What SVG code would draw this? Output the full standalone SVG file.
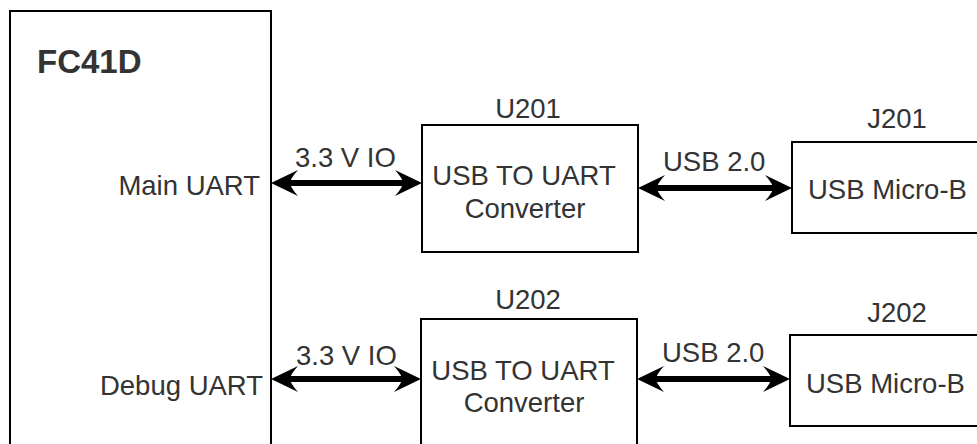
<svg xmlns="http://www.w3.org/2000/svg" width="977" height="444" viewBox="0 0 977 444">
<style>
.box{fill:#fff;stroke:#000;stroke-width:2}
.t{font-family:"Liberation Sans",Arial,sans-serif;font-size:27.5px;fill:#333}
.c{text-anchor:middle}
.e{text-anchor:end}
.b{font-weight:bold;font-size:33px}
.conn{stroke:#000;stroke-width:6;fill:none;marker-start:url(#ah);marker-end:url(#ah)}
</style>
<defs>
<marker id="ah" viewBox="-28 -14 29 28" refX="-15" refY="0" markerWidth="29" markerHeight="28" markerUnits="userSpaceOnUse" orient="auto-start-reverse">
<path d="M0,0 L-27,-13 Q-19,-4 -19,0 Q-19,4 -27,13 Z" fill="#000"/>
</marker>
</defs>
<g id="fc41d">
<rect class="box" x="10" y="11" width="261" height="450"/>
<text class="t b" x="37" y="73">FC41D</text>
<text class="t e" x="260" y="195">Main UART</text>
<text class="t e" x="263" y="395">Debug UART</text>
</g>
<g id="u201">
<rect class="box" x="422" y="125" width="216" height="127"/>
<text class="t c" x="528" y="118">U201</text>
<text class="t c" x="524" y="185">USB TO UART</text>
<text class="t c" x="525" y="218">Converter</text>
</g>
<g id="j201">
<rect class="box" x="792" y="142" width="200" height="91"/>
<text class="t c" x="897" y="128">J201</text>
<text class="t" x="808" y="199">USB Micro-B</text>
</g>
<g id="u202">
<rect class="box" x="421" y="319" width="216" height="150"/>
<text class="t c" x="528" y="309">U202</text>
<text class="t c" x="523" y="380">USB TO UART</text>
<text class="t c" x="524" y="412">Converter</text>
</g>
<g id="j202">
<rect class="box" x="790" y="335" width="200" height="91"/>
<text class="t c" x="897" y="322">J202</text>
<text class="t" x="806" y="393">USB Micro-B</text>
</g>
<g id="connectors">
<line class="conn" x1="286" y1="183" x2="407" y2="183"/>
<text class="t" x="295" y="167">3.3 V IO</text>
<line class="conn" x1="653" y1="188" x2="777" y2="188"/>
<text class="t" x="663" y="171">USB 2.0</text>
<line class="conn" x1="286" y1="379" x2="406" y2="379"/>
<text class="t" x="296" y="365">3.3 V IO</text>
<line class="conn" x1="652" y1="379" x2="775" y2="379"/>
<text class="t" x="662" y="362">USB 2.0</text>
</g>
</svg>
